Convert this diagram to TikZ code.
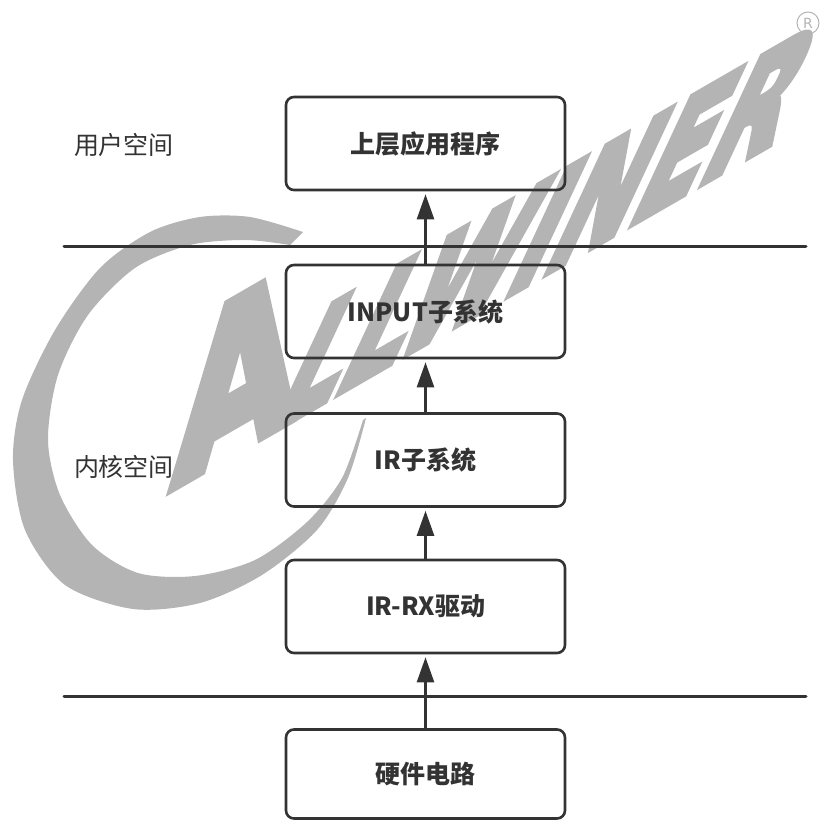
\documentclass[tikz,border=0pt]{standalone}
\usepackage{fontspec}
\newfontfamily\cjk{Noto Sans CJK SC}
\newfontfamily\wmfont[FakeBold=6]{DejaVu Sans Bold}
\newfontfamily\regfont{DejaVu Sans}
\usetikzlibrary{arrows.meta}
\definecolor{ink}{HTML}{333333}
\definecolor{wm}{HTML}{B4B4B4}
\tikzset{
  boxstyle/.style={draw=ink, line width=2.6pt, rounded corners=8pt,
    minimum width=279pt, minimum height=93pt, inner sep=0pt,
    font=\cjk\bfseries\fontsize{25}{30}\selectfont, text=ink},
  lbl/.style={font=\cjk\fontsize{25}{30}\selectfont, text=ink, inner sep=0pt},
  sep/.style={draw=ink, line width=3pt, line cap=round},
  arr/.style={draw=ink, line width=2.6pt, -{Triangle[length=25pt,width=17pt]}, shorten >=3pt},
  wmtext/.style={text=wm, inner sep=0pt, anchor=base west, transform shape}
}
\begin{document}
\begin{tikzpicture}[x=1pt,y=-1pt]
\useasboundingbox (0,0) rectangle (823,821);
% watermark
\fill[wm] plot[smooth] coordinates {(303,232) (250,217) (200,217) (150,232) (100,268) (55,330) (22,400) (13,460) (25,530) (65,585) (133,609) (200,603) (262,575) (317,530) (348,478) (366,418)}
  -- plot[smooth] coordinates {(363,420) (342,478) (307,522) (255,560) (195,576) (138,573) (92,545) (60,495) (48,440) (58,375) (88,315) (135,268) (190,245) (245,240) (290,245)} -- cycle;
\begin{scope}[shift={(172,487)}, cm={0.72,0.415,0.08,1.0,(0,0)}]
  \node[wmtext, font=\wmfont\fontsize{215}{215}\selectfont] (wmA) at (0pt,0pt) {A};
\end{scope}
\begin{scope}[shift={(264,436)}, cm={0.522,0.301,0.41,0.88,(0,0)}]
  \node[wmtext, font=\wmfont\fontsize{196}{196}\selectfont] (wmB) at (0pt,0pt) {LLWINER};
\end{scope}
\node[draw=wm, line width=1pt, circle, minimum size=22pt, inner sep=0pt, text=wm, font=\regfont\fontsize{14}{14}\selectfont] (reg) at (808,23) {R};
% separators
\coordinate (s1a) at (64,247); \coordinate (s1b) at (806,247);
\coordinate (s2a) at (64,696); \coordinate (s2b) at (806,696);
\draw[sep] (s1a) -- (s1b);
\draw[sep] (s2a) -- (s2b);
% labels
\node[lbl] (user) at (124,145) {用户空间};
\node[lbl] (kernel) at (124,467) {内核空间};
% boxes
\node[boxstyle] (app) at (425.5,143.5) {上层应用程序};
\node[boxstyle] (input) at (425.5,311.5) {INPUT子系统};
\node[boxstyle] (ir) at (425.5,460) {IR子系统};
\node[boxstyle] (irrx) at (425.5,606.5) {IR-RX驱动};
\node[boxstyle, minimum height=89pt] (hw) at (425.5,774) {硬件电路};
% arrows
\draw[arr] (input.north) -- (app.south);
\draw[arr] (ir.north) -- (input.south);
\draw[arr] (irrx.north) -- (ir.south);
\draw[arr] (hw.north) -- (irrx.south);
\end{tikzpicture}
\end{document}
